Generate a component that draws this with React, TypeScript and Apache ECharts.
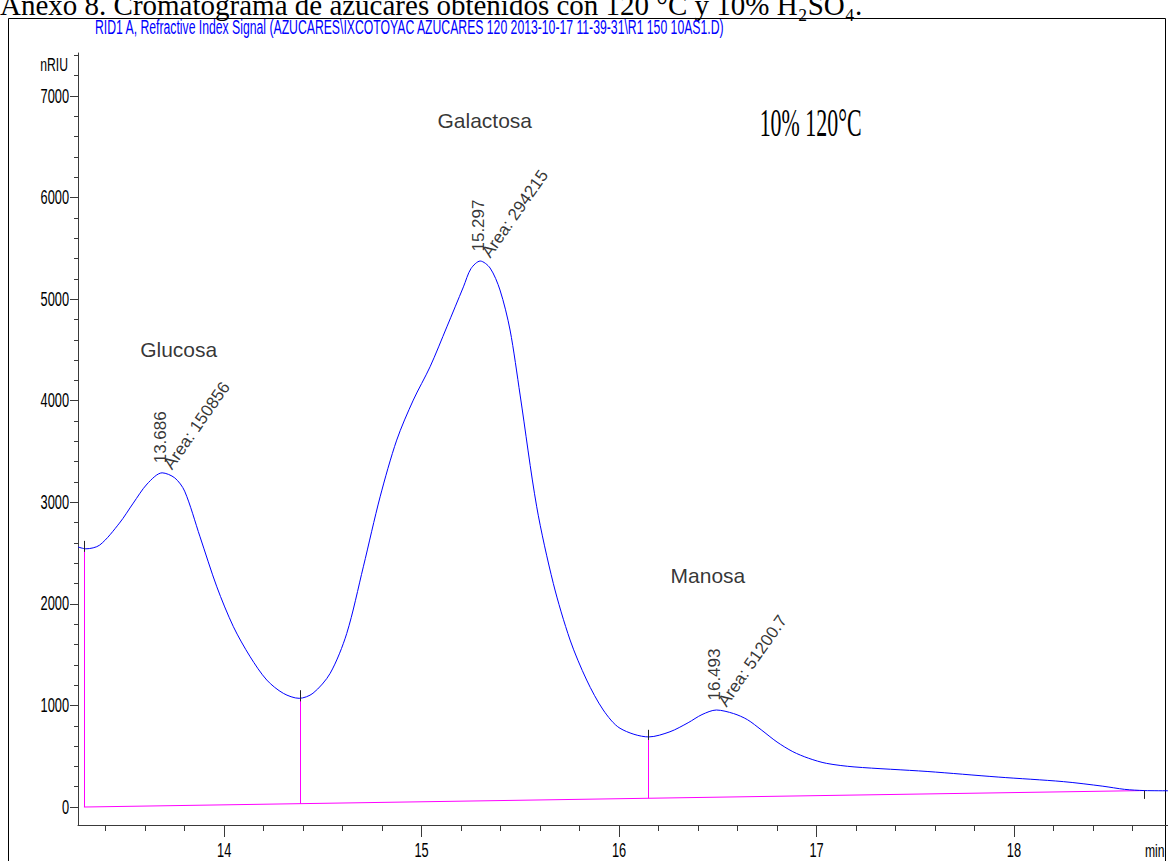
import React, { useEffect, useRef } from "react";
import * as echarts from "echarts";

// ---- data ----
const signalTime = [13.26, 13.30, 13.37, 13.47, 13.54, 13.61, 13.686, 13.75, 13.80, 13.878, 13.963, 14.047, 14.132, 14.216, 14.30, 14.38, 14.45, 14.537, 14.621, 14.705, 14.79, 14.874, 14.958, 15.043, 15.128, 15.212, 15.25, 15.297, 15.347, 15.397, 15.448, 15.499, 15.583, 15.667, 15.752, 15.836, 15.92, 16.005, 16.15, 16.258, 16.35, 16.42, 16.493, 16.58, 16.65, 16.72, 16.80, 16.88, 16.96, 17.05, 17.19, 17.56, 17.92, 18.25, 18.45, 18.56, 18.66, 18.78];
const signalValue = [2560, 2542, 2579, 2795, 2992, 3180, 3290, 3240, 3110, 2660, 2168, 1775, 1479, 1250, 1119, 1070, 1120, 1316, 1709, 2365, 3054, 3612, 4006, 4334, 4727, 5121, 5300, 5375, 5306, 5090, 4696, 4056, 2956, 2202, 1644, 1250, 955, 775, 690, 741, 830, 910, 955, 920, 860, 760, 640, 545, 480, 430, 395, 350, 295, 250, 205, 174, 162, 160];

const baselineTime = [13.29, 18.66];
const baselineValue = [0, 162];

const dropTime = [13.29, 14.385, 16.15];
const dropTop = [2542, 1070, 690];
const dropTickTop = [2620, 1150, 760];
const endTickTime = 18.66;
const endTickBottom = 80;

const peakTime = [13.686, 15.297, 16.493];
const peakValue = [3290, 5375, 955];
const peakRtLabel = ["13.686", "15.297", "16.493"];
const peakAreaLabel = ["Area: 150856", "Area: 294215", "Area: 51200.7"];

const sugarName = ["Glucosa", "Galactosa", "Manosa"];
const sugarNameTime = [13.77, 15.32, 16.45];
const sugarNameValue = [4508, 6762, 2283];

const conditionLabel = "10% 120°C";
const conditionTime = 16.97;
const conditionValue = 6742;

const xTickValues = [14, 15, 16, 17, 18];
const xTickLabels = ["14", "15", "16", "17", "18"];
const xMinorTicks = [13.4, 13.6, 13.8, 14.2, 14.4, 14.6, 14.8, 15.2, 15.4, 15.6, 15.8, 16.2, 16.4, 16.6, 16.8, 17.2, 17.4, 17.6, 17.8, 18.2, 18.4, 18.6];
const yTickValues = [0, 1000, 2000, 3000, 4000, 5000, 6000, 7000];
const yTickLabels = ["0", "1000", "2000", "3000", "4000", "5000", "6000", "7000"];
const yMinorTicks = [200, 400, 600, 800, 1200, 1400, 1600, 1800, 2200, 2400, 2600, 2800, 3200, 3400, 3600, 3800, 4200, 4400, 4600, 4800, 5200, 5400, 5600, 5800, 6200, 6400, 6600, 6800, 7200, 7400];

const X_MIN = 13.26;
const X_MAX = 18.78;
const Y_MIN = -177;
const Y_MAX = 7423;

const captionText = "Anexo 8. Cromatograma de azúcares obtenidos con 120 °C y 10% H₂SO₄.";
const signalTitle = "RID1 A, Refractive Index Signal (AZUCARES\\IXCOTOYAC AZUCARES 120 2013-10-17 11-39-31\\R1 150 10AS1.D)";
const yUnit = "nRIU";
const xUnit = "min";

const SANS = '"Liberation Sans", Arial, sans-serif';
const SERIF = '"Liberation Serif", "Times New Roman", serif';
const AXIS_COLOR = "#3a3a3a";

function measure(text: string, font: string): number {
  const c = document.createElement("canvas").getContext("2d");
  if (!c) return text.length * 10;
  c.font = font;
  return c.measureText(text).width;
}

function baselineAt(t: number): number {
  const f = (t - baselineTime[0]) / (baselineTime[1] - baselineTime[0]);
  return baselineValue[0] + f * (baselineValue[1] - baselineValue[0]);
}

export default function App() {
  const ref = useRef<HTMLDivElement>(null);

  useEffect(() => {
    document.body.style.margin = "0";
    const chart = echarts.init(ref.current!, null, { renderer: "svg" });

    const grid = { left: 78, right: 0, top: 53, bottom: 36 };
    const hiddenAxisCommon = {
      axisLine: { show: false },
      axisLabel: { show: false },
      splitLine: { show: false },
    };

    const option: any = {
      animation: false,
      backgroundColor: "#ffffff",
      grid: [
        { ...grid, containLabel: false },
        { ...grid, containLabel: false },
      ],
      xAxis: [
        {
          type: "value",
          gridIndex: 0,
          min: X_MIN,
          max: X_MAX,
          axisLine: { show: true, onZero: false, lineStyle: { color: AXIS_COLOR, width: 1 } },
          axisTick: { show: true, customValues: xTickValues, length: 12, lineStyle: { color: AXIS_COLOR } },
          axisLabel: { show: false },
          splitLine: { show: false },
        },
        {
          type: "value",
          gridIndex: 1,
          min: X_MIN,
          max: X_MAX,
          ...hiddenAxisCommon,
          axisLine: { show: false, onZero: false },
          axisTick: { show: true, customValues: xMinorTicks, length: 6, lineStyle: { color: AXIS_COLOR } },
        },
      ],
      yAxis: [
        {
          type: "value",
          gridIndex: 0,
          min: Y_MIN,
          max: Y_MAX,
          axisLine: { show: true, onZero: false, lineStyle: { color: AXIS_COLOR, width: 1 } },
          axisTick: { show: true, customValues: yTickValues, length: 8, lineStyle: { color: AXIS_COLOR } },
          axisLabel: { show: false },
          splitLine: { show: false },
        },
        {
          type: "value",
          gridIndex: 1,
          min: Y_MIN,
          max: Y_MAX,
          ...hiddenAxisCommon,
          axisLine: { show: false, onZero: false },
          axisTick: { show: true, customValues: yMinorTicks, length: 4, lineStyle: { color: AXIS_COLOR } },
        },
      ],
      series: [
        {
          name: "signal",
          type: "line",
          xAxisIndex: 0,
          yAxisIndex: 0,
          data: signalTime.map((t, i) => [t, signalValue[i]]),
          smooth: 0.3,
          showSymbol: false,
          lineStyle: { color: "#0000ff", width: 1 },
          z: 3,
        },
        {
          name: "baseline",
          type: "line",
          xAxisIndex: 0,
          yAxisIndex: 0,
          data: baselineTime.map((t, i) => [t, baselineValue[i]]),
          showSymbol: false,
          lineStyle: { color: "#ff00ff", width: 1 },
          z: 2,
          markLine: {
            silent: true,
            symbol: "none",
            label: { show: false },
            lineStyle: { color: "#ff00ff", width: 1, type: "solid" },
            data: dropTime.map((t, i) => [
              { coord: [t, baselineAt(t)] },
              { coord: [t, dropTop[i]] },
            ]),
          },
        },
        {
          name: "ticks",
          type: "line",
          xAxisIndex: 0,
          yAxisIndex: 0,
          data: [],
          markLine: {
            silent: true,
            symbol: "none",
            label: { show: false },
            lineStyle: { color: "#222222", width: 1, type: "solid" },
            data: [
              ...dropTime.map((t, i) => [
                { coord: [t, dropTop[i] - 30] },
                { coord: [t, dropTickTop[i]] },
              ]),
              [{ coord: [endTickTime, baselineAt(endTickTime)] }, { coord: [endTickTime, endTickBottom] }],
            ],
          },
        },
        {
          name: "rt",
          type: "scatter",
          xAxisIndex: 0,
          yAxisIndex: 0,
          symbolSize: 1,
          itemStyle: { color: "transparent" },
          data: peakTime.map((t, i) => ({ value: [t, peakValue[i]], name: peakRtLabel[i] })),
          label: {
            show: true,
            formatter: (p: any) => p.name,
            position: [-1.5, -9],
            align: "left",
            verticalAlign: "middle",
            rotate: 90,
            fontFamily: SANS,
            fontSize: 17,
            color: "#000",
          },
          z: 5,
        },
        {
          name: "area",
          type: "scatter",
          xAxisIndex: 0,
          yAxisIndex: 0,
          symbolSize: 1,
          itemStyle: { color: "transparent" },
          data: peakTime.map((t, i) => ({ value: [t, peakValue[i]], name: peakAreaLabel[i] })),
          label: {
            show: true,
            formatter: (p: any) => p.name,
            position: [6, -5],
            align: "left",
            verticalAlign: "middle",
            rotate: 55,
            fontFamily: SANS,
            fontSize: 17,
            color: "#000",
          },
          z: 5,
        },
        {
          name: "names",
          type: "scatter",
          xAxisIndex: 0,
          yAxisIndex: 0,
          symbolSize: 1,
          itemStyle: { color: "transparent" },
          data: sugarNameTime.map((t, i) => ({ value: [t, sugarNameValue[i]], name: sugarName[i] })),
          label: {
            show: true,
            formatter: (p: any) => p.name,
            position: "inside",
            align: "center",
            verticalAlign: "middle",
            fontFamily: SANS,
            fontSize: 21,
            color: "#000",
          },
          z: 5,
        },
      ],
    };

    chart.setOption(option);

    const px = (x: number, y: number) => chart.convertToPixel({ gridIndex: 0 }, [x, y]) as number[];

    const axisFs = 20;
    const axisScale = 0.64;
    const titleFs = 20;
    const titleW = measure(signalTitle, `${titleFs}px "Liberation Sans"`);
    const titleScale = 630 / titleW;
    const condFs = 40;
    const condW = measure(conditionLabel, `${condFs}px "Liberation Serif"`);
    const condScale = 102 / condW;
    const condPos = px(conditionTime, conditionValue);

    const graphics: any[] = [
      {
        type: "rect",
        shape: { x: 8.5, y: 18.5, width: 1157, height: 900 },
        style: { fill: "none", stroke: "#000", lineWidth: 1 },
        silent: true,
        z: 0,
      },
      {
        type: "text",
        x: 0,
        y: 5,
        style: { text: captionText, fontFamily: SERIF, fontSize: 29, fill: "#000", align: "left", verticalAlign: "middle" },
        silent: true,
      },
      {
        type: "text",
        x: 95,
        y: 27,
        scaleX: titleScale,
        style: { text: signalTitle, fontFamily: SANS, fontSize: titleFs, fill: "#0000ff", align: "left", verticalAlign: "middle" },
        silent: true,
      },
      {
        type: "text",
        x: 68,
        y: 64,
        scaleX: axisScale,
        style: { text: yUnit, fontFamily: SANS, fontSize: 19, fill: "#000", align: "right", verticalAlign: "middle" },
        silent: true,
      },
      {
        type: "text",
        x: 1145,
        y: 850,
        scaleX: axisScale,
        style: { text: xUnit, fontFamily: SANS, fontSize: 19, fill: "#000", align: "left", verticalAlign: "middle" },
        silent: true,
      },
      {
        type: "text",
        x: condPos[0],
        y: condPos[1],
        scaleX: condScale,
        style: { text: conditionLabel, fontFamily: SERIF, fontSize: condFs, fill: "#000", align: "center", verticalAlign: "middle" },
        silent: true,
      },
    ];

    yTickValues.forEach((v, i) => {
      const p = px(X_MIN, v);
      graphics.push({
        type: "text",
        x: 69,
        y: p[1],
        scaleX: axisScale,
        style: { text: yTickLabels[i], fontFamily: SANS, fontSize: axisFs, fill: "#000", align: "right", verticalAlign: "middle" },
        silent: true,
      });
    });
    xTickValues.forEach((v, i) => {
      const p = px(v, Y_MIN);
      graphics.push({
        type: "text",
        x: p[0],
        y: 850,
        scaleX: axisScale,
        style: { text: xTickLabels[i], fontFamily: SANS, fontSize: axisFs, fill: "#000", align: "center", verticalAlign: "middle" },
        silent: true,
      });
    });

    chart.setOption({ graphic: graphics });

    return () => chart.dispose();
  }, []);

  return (
    <div
      ref={ref}
      style={{ position: "fixed", left: 0, top: 0, width: 1168, height: 861, background: "#fff", overflow: "hidden" }}
    />
  );
}
